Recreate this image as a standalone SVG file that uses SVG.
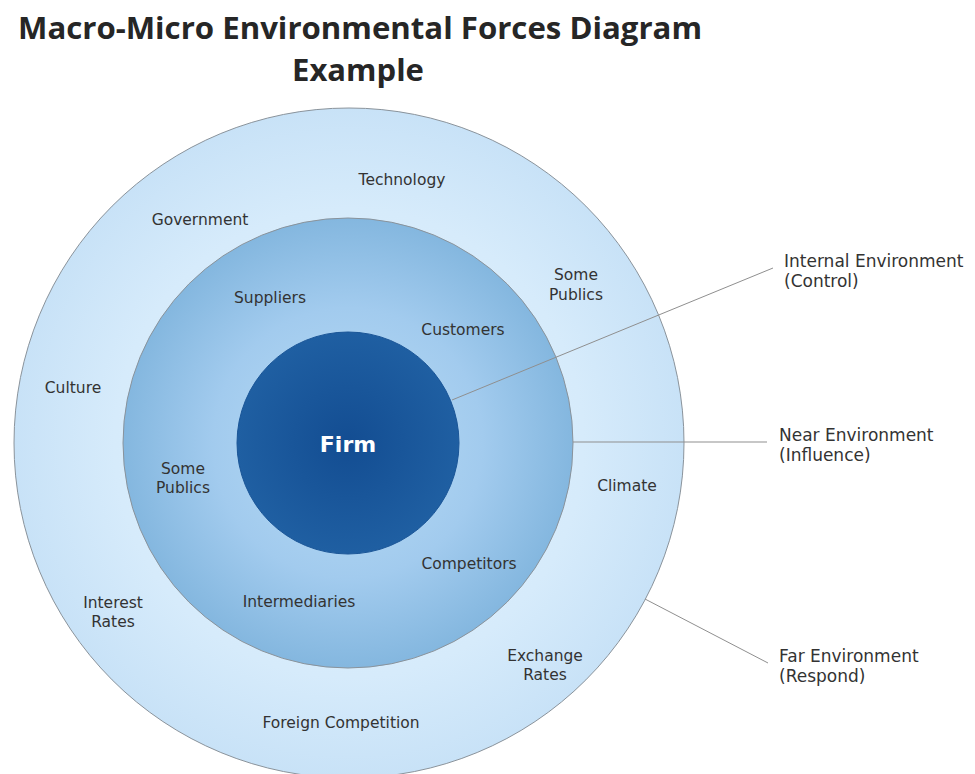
<svg xmlns="http://www.w3.org/2000/svg" width="975" height="774" viewBox="0 0 975 774">
<defs>
<radialGradient id="gOuter" cx="50%" cy="50%" r="50%">
<stop offset="0" stop-color="#e3f2fd"/>
<stop offset="0.7" stop-color="#d6ebfb"/>
<stop offset="1" stop-color="#c8e2f7"/>
</radialGradient>
<radialGradient id="gMid" cx="50%" cy="50%" r="50%">
<stop offset="0" stop-color="#b9dcf5"/>
<stop offset="0.6" stop-color="#a2cbee"/>
<stop offset="1" stop-color="#84b7df"/>
</radialGradient>
<radialGradient id="gIn" cx="50%" cy="50%" r="50%">
<stop offset="0" stop-color="#134d92"/>
<stop offset="1" stop-color="#1f5fa2"/>
</radialGradient>
<style>
.lbl{font-family:"DejaVu Sans",Verdana,sans-serif;font-size:15.5px;fill:#333;text-anchor:middle}
.side{font-family:"DejaVu Sans",Verdana,sans-serif;font-size:17px;fill:#333}
.ring{stroke:#8a939b;stroke-width:1}
.conn{stroke:#8f8f8f;stroke-width:1;fill:none}
.title{font-family:"Open Sans","Liberation Sans",sans-serif;font-weight:bold;font-size:31px;fill:#262626;text-anchor:middle}
</style>
</defs>
<rect width="975" height="774" fill="#fff"/>
<g id="title">
<text class="title" x="360" y="39" textLength="684" lengthAdjust="spacingAndGlyphs">Macro-Micro Environmental Forces Diagram</text>
<text class="title" x="358" y="81">Example</text>
</g>
<g id="far-environment">
<circle class="ring" cx="349" cy="443" r="335" fill="url(#gOuter)"/>
<text class="lbl" x="402" y="185">Technology</text>
<text class="lbl" x="200" y="225">Government</text>
<text class="lbl" x="576" y="280">Some</text>
<text class="lbl" x="576" y="300">Publics</text>
<text class="lbl" x="73" y="393">Culture</text>
<text class="lbl" x="627" y="491">Climate</text>
<text class="lbl" x="113" y="608">Interest</text>
<text class="lbl" x="113" y="627">Rates</text>
<text class="lbl" x="545" y="661">Exchange</text>
<text class="lbl" x="545" y="680">Rates</text>
<text class="lbl" x="341" y="728">Foreign Competition</text>
</g>
<g id="near-environment">
<circle class="ring" cx="348" cy="443" r="225" fill="url(#gMid)"/>
<text class="lbl" x="270" y="303">Suppliers</text>
<text class="lbl" x="463" y="335">Customers</text>
<text class="lbl" x="183" y="474">Some</text>
<text class="lbl" x="183" y="493">Publics</text>
<text class="lbl" x="469" y="569">Competitors</text>
<text class="lbl" x="299" y="607">Intermediaries</text>
</g>
<g id="firm">
<circle cx="348" cy="443" r="111" fill="url(#gIn)" stroke="#1a5597" stroke-width="1"/>
<text x="348" y="452" font-family="'DejaVu Sans',Verdana,sans-serif" font-weight="bold" font-size="22" fill="#fff" text-anchor="middle">Firm</text>
</g>
<g id="connectors">
<line class="conn" x1="452" y1="400" x2="773" y2="268"/>
<line class="conn" x1="573" y1="442" x2="767" y2="442"/>
<line class="conn" x1="645" y1="599" x2="768" y2="663"/>
</g>
<g id="legend">
<text class="side" x="784" y="267">Internal Environment</text>
<text class="side" x="784" y="287">(Control)</text>
<text class="side" x="779" y="441">Near Environment</text>
<text class="side" x="779" y="461">(Influence)</text>
<text class="side" x="779" y="662">Far Environment</text>
<text class="side" x="779" y="682">(Respond)</text>
</g>
</svg>
